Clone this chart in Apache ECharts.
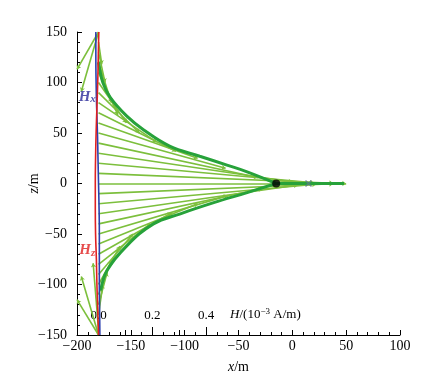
<!DOCTYPE html>
<html>
<head>
<meta charset="utf-8">
<script src="https://cdn.jsdelivr.net/npm/echarts@6/dist/echarts.min.js"></script>
<style>
  html, body { margin: 0; padding: 0; background: #fff; }
  #main { width: 429px; height: 390px; }
</style>
</head>
<body>
<div id="main"></div>
<script>
// 钻孔位置 (x = -180 m)
var boreX = -180;

// 各测点的方向矢量：起点 z，终点 x / z
var vecZ0 = [150, 150, 140, 130, 120, 110, 100, 90, 80, 70, 60, 50, 40, 30, 20, 10, 0,
             -10, -20, -30, -40, -50, -60, -70, -80, -90, -100, -110, -120, -130, -145, -150, -150];
var vecX1 = [-200, -196, -177, -174, -168, -162, -154, -142, -126, -108, -88, -62, -32, 0, 20, 38, 50,
             38, 22, 5, -28, -60, -88, -112, -132, -148, -160, -168, -172, -176, -185, -196, -200];
var vecZ1 = [113, 91, 118, 100, 80, 68, 60, 50, 41, 32, 25, 15, 6, 1.5, 0.8, 0.3, 0,
             -0.3, -0.8, -1.5, -5, -12, -20, -29, -40, -50, -62, -76, -88, -100, -79, -92, -115];

// 包络线
var envUpX = [-180, -176, -169, -154, -138, -114, -86, -60, -42, -15];
var envUpZ = [120, 100, 85, 67, 53, 37, 27, 18, 11.5, 0];
var envLoX = [-178, -172, -154, -129, -104, -73, -42, -15];
var envLoZ = [-106, -86, -62, -40, -30, -19, -9, 0];
var tailX = [-15, 48];
var tailZ = [0, 0];

// 源位置与估计点
var srcPoint = [-15, 0];
var estPoint = [15, 0];

// 钻孔中磁场分量剖面 (10^-3 A/m)
var profZ = [150, 125, 100, 75, 50, 25, 0, -25, -50, -75, -100, -125, -150];
var hxVals = [-0.010, -0.010, -0.009, -0.007, -0.004, -0.002, 0.000, 0.002, 0.003, 0.003, 0.003, 0.004, 0.005];
var hzVals = [0.001, -0.001, -0.003, -0.006, -0.009, -0.011, -0.012, -0.012, -0.011, -0.008, -0.006, -0.003, 0.000];

// H 轴刻度
var hMajor = [0, 0.2, 0.4];
var hMinor = [0.1, 0.3];
var hNamePos = 0.62;

var FONT = 'Liberation Serif';
var minus = function (v) { return String(v).replace('-', '\u2212'); };

var vecData = vecZ0.map(function (z0, i) {
  return { coords: [[boreX, z0], [vecX1[i], vecZ1[i]]] };
});
var zip = function (a, b) { return a.map(function (v, i) { return [v, b[i]]; }); };

var chart = echarts.init(document.getElementById('main'));
chart.setOption({
  animation: false,
  textStyle: { fontFamily: FONT },
  grid: { left: 77, right: 29, top: 32, bottom: 55 },
  xAxis: [{
    type: 'value', min: -200, max: 100, interval: 50,
    name: '{i|x}/m', nameLocation: 'middle', nameGap: 25, nameMoveOverlap: false,
    nameTextStyle: { fontFamily: FONT, fontSize: 14, color: '#000', rich: { i: { fontStyle: 'italic', fontFamily: FONT, fontSize: 14 } } },
    axisLine: { onZero: false, lineStyle: { color: '#000', width: 1 } },
    axisTick: { inside: true, length: 5, lineStyle: { color: '#000' } },
    minorTick: { show: true, splitNumber: 5, length: 3, lineStyle: { color: '#000' } },
    axisLabel: { color: '#000', fontSize: 14, fontFamily: FONT, margin: 4, formatter: minus },
    splitLine: { show: false }
  }, {
    type: 'value', min: -0.08, max: 1.12, position: 'bottom',
    axisLine: { show: false, onZero: false },
    axisTick: { show: true, inside: true, length: 8, customValues: hMajor, lineStyle: { color: '#000' } },
    axisLabel: {
      show: true, inside: true, margin: 13, color: '#000', fontSize: 13, fontFamily: FONT,
      customValues: hMajor.concat([hNamePos]),
      formatter: function (v) {
        if (Math.abs(v - hNamePos) < 1e-6) return '{i|H}/(10{s|\u22123} A/m)';
        return v.toFixed(1);
      },
      rich: {
        i: { fontStyle: 'italic', fontFamily: FONT, fontSize: 13 },
        s: { fontFamily: FONT, fontSize: 9, verticalAlign: 'top', padding: [0, 0, 6, 0] }
      }
    },
    splitLine: { show: false }
  }, {
    type: 'value', min: -0.08, max: 1.12, position: 'bottom',
    axisLine: { show: false, onZero: false },
    axisTick: { show: true, inside: true, length: 5, customValues: hMinor, lineStyle: { color: '#000' } },
    axisLabel: { show: false },
    splitLine: { show: false }
  }],
  yAxis: {
    type: 'value', min: -150, max: 150, interval: 50,
    name: '{i|z}/m', nameLocation: 'middle', nameGap: 36, nameMoveOverlap: false,
    nameTextStyle: { fontFamily: FONT, fontSize: 14, color: '#000', rich: { i: { fontStyle: 'italic', fontFamily: FONT, fontSize: 14 } } },
    axisLine: { show: true, onZero: false, lineStyle: { color: '#000', width: 1 } },
    axisTick: { inside: true, length: 5, lineStyle: { color: '#000' } },
    minorTick: { show: true, splitNumber: 5, length: 3, lineStyle: { color: '#000' } },
    axisLabel: { color: '#000', fontSize: 14, fontFamily: FONT, margin: 10, formatter: minus },
    splitLine: { show: false }
  },
  series: [{
    // 方向矢量
    type: 'lines', coordinateSystem: 'cartesian2d', xAxisIndex: 0, yAxisIndex: 0,
    symbol: ['none', 'arrow'], symbolSize: 4,
    lineStyle: { color: '#7cbf3c', width: 1.6, opacity: 1 },
    data: vecData, z: 3
  }, {
    type: 'line', xAxisIndex: 0, smooth: 0.4, showSymbol: false,
    lineStyle: { color: '#27a23a', width: 3 },
    data: zip(envUpX, envUpZ), z: 4
  }, {
    type: 'line', xAxisIndex: 0, smooth: 0.4, showSymbol: false,
    lineStyle: { color: '#27a23a', width: 3 },
    data: zip(envLoX, envLoZ), z: 4
  }, {
    type: 'line', xAxisIndex: 0, showSymbol: false,
    lineStyle: { color: '#27a23a', width: 3 },
    data: zip(tailX, tailZ), z: 4
  }, {
    // Hx 剖面
    type: 'line', xAxisIndex: 1, showSymbol: false, smooth: true,
    lineStyle: { color: '#2a3fb0', width: 1.6 },
    data: zip(hxVals, profZ), z: 6
  }, {
    // Hz 剖面
    type: 'line', xAxisIndex: 1, showSymbol: false, smooth: true,
    lineStyle: { color: '#e02020', width: 1.6 },
    data: zip(hzVals, profZ), z: 6
  }, {
    type: 'scatter', xAxisIndex: 0, symbol: 'circle', symbolSize: 8,
    itemStyle: { color: '#000' }, data: [srcPoint], z: 8
  }, {
    type: 'scatter', xAxisIndex: 0, symbol: 'path://M0,0L10,10M10,0L0,10', symbolSize: 6,
    itemStyle: { color: 'none', borderColor: '#5b7a8a', borderWidth: 1.5 }, data: [estPoint], z: 8
  }, {
    type: 'scatter', xAxisIndex: 0, symbolSize: 0, z: 9,
    label: {
      show: true, position: 'inside',
      formatter: function (p) { return p.data[2]; },
      rich: {
        hx: { fontFamily: FONT, fontStyle: 'italic', fontWeight: 'bold', fontSize: 15, color: '#2a2a9a' },
        hxs: { fontFamily: FONT, fontStyle: 'italic', fontWeight: 'bold', fontSize: 11, color: '#2a2a9a', padding: [6, 0, 0, 0] },
        hz: { fontFamily: FONT, fontStyle: 'italic', fontWeight: 'bold', fontSize: 15, color: '#e02020' },
        hzs: { fontFamily: FONT, fontStyle: 'italic', fontWeight: 'bold', fontSize: 11, color: '#e02020', padding: [6, 0, 0, 0] }
      }
    },
    data: [[-190.5, 86, '{hx|H}{hxs|x}'], [-190.5, -66, '{hz|H}{hzs|z}']]
  }]
});
</script>
</body>
</html>
